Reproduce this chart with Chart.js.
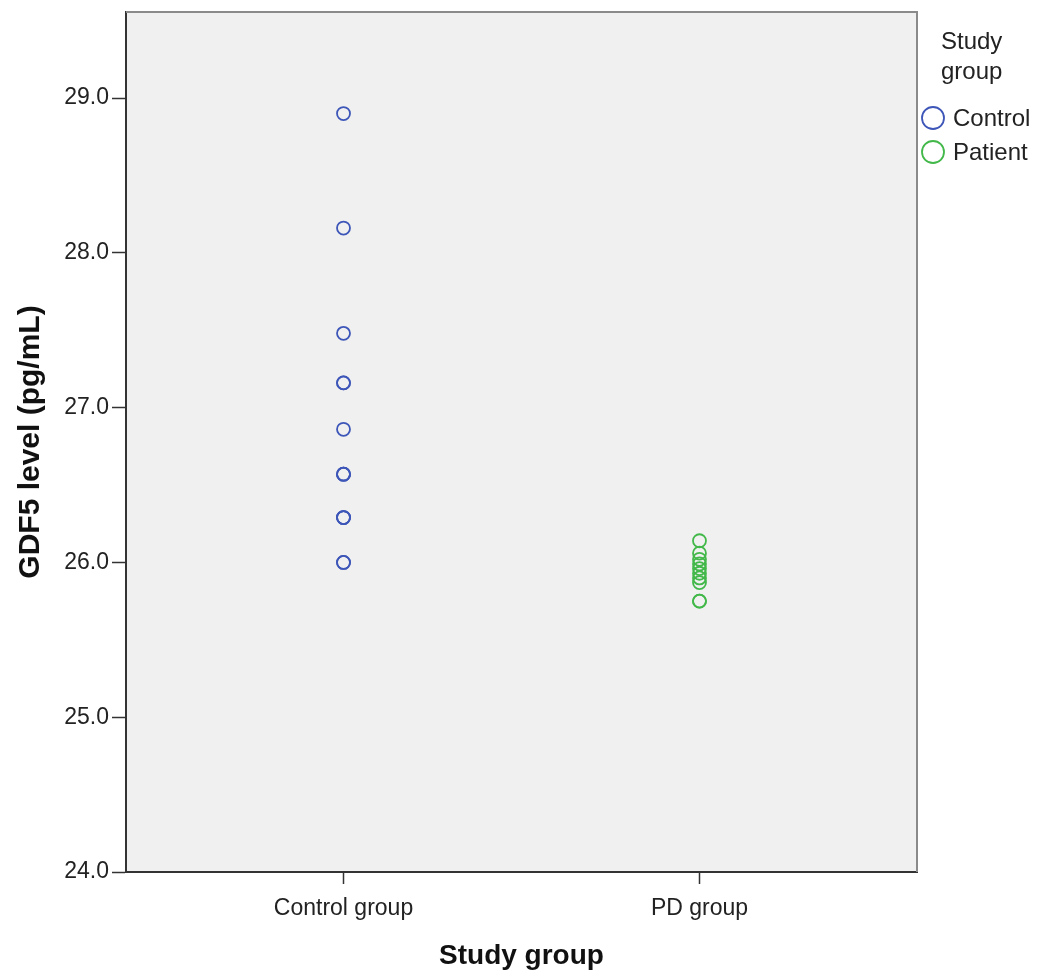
<!DOCTYPE html>
<html>
<head>
<meta charset="utf-8">
<script src="https://cdn.jsdelivr.net/npm/chart.js@4"></script>
<style>
  body { margin: 0; background: #fff; }
  #wrap { width: 1039px; height: 975px; }
</style>
</head>
<body>
<div id="wrap"><canvas id="gdfChart" width="1039" height="975"></canvas></div>
<script>
// category labels on the x axis
const groupLabels = ['Control group', 'PD group'];
// legend entries
const seriesNames = ['Control', 'Patient'];
// GDF5 level (pg/mL)
const controlValues = [28.90, 28.16, 27.48, 27.16, 27.16, 26.86, 26.57, 26.57, 26.57, 26.29, 26.29, 26.29, 26.00, 26.00];
const patientValues = [26.14, 26.06, 26.02, 25.99, 25.96, 25.93, 25.90, 25.87, 25.75, 25.75];
const yTicks = [24.0, 25.0, 26.0, 27.0, 28.0, 29.0];

const blue = '#3d56b8';
const green = '#43b84a';

function toPoints(values, pos) {
  return values.map(v => ({ x: pos, y: v }));
}

// plot background + lighter top/right frame lines
const framePlugin = {
  id: 'frame',
  beforeDraw(chart) {
    const { ctx, chartArea: a } = chart;
    ctx.save();
    ctx.fillStyle = '#f0f0f0';
    ctx.fillRect(a.left, a.top, a.right - a.left, a.bottom - a.top);
    ctx.restore();
  },
  afterDraw(chart) {
    const { ctx, chartArea: a } = chart;
    ctx.save();
    ctx.strokeStyle = '#8a8a8a';
    ctx.lineWidth = 2;
    ctx.beginPath();
    ctx.moveTo(a.left, a.top);
    ctx.lineTo(a.right, a.top);
    ctx.lineTo(a.right, a.bottom);
    ctx.stroke();
    ctx.restore();
  }
};

// legend drawn to the right of the plot like the SPSS output
const legendPlugin = {
  id: 'sideLegend',
  afterDraw(chart) {
    const { ctx, chartArea: a } = chart;
    const x = a.right + 16;
    ctx.save();
    ctx.fillStyle = '#222';
    ctx.font = '24px "Liberation Sans", Arial, sans-serif';
    ctx.textBaseline = 'middle';
    ctx.textAlign = 'left';
    ctx.fillText('Study', x + 8, 42);
    ctx.fillText('group', x + 8, 72);
    const colors = [blue, green];
    seriesNames.forEach((name, i) => {
      const y = 118 + i * 34;
      ctx.strokeStyle = colors[i];
      ctx.lineWidth = 1.8;
      ctx.beginPath();
      ctx.arc(x, y, 11, 0, Math.PI * 2);
      ctx.stroke();
      ctx.fillStyle = '#222';
      ctx.fillText(name, x + 20, y + 1);
    });
    ctx.restore();
  }
};

const tickFont = { family: '"Liberation Sans", Arial, sans-serif', size: 23 };
const titleFont = { family: '"Liberation Sans", Arial, sans-serif', size: 28, weight: 'bold' };

new Chart(document.getElementById('gdfChart'), {
  type: 'scatter',
  data: {
    datasets: [
      {
        label: seriesNames[0],
        data: toPoints(controlValues, 1),
        borderColor: blue,
        backgroundColor: 'rgba(0,0,0,0)',
        pointRadius: 6.5,
        pointBorderWidth: 1.8
      },
      {
        label: seriesNames[1],
        data: toPoints(patientValues, 2),
        borderColor: green,
        backgroundColor: 'rgba(0,0,0,0)',
        pointRadius: 6.5,
        pointBorderWidth: 1.8
      }
    ]
  },
  options: {
    responsive: false,
    animation: false,
    layout: { padding: { top: 12, right: 122, left: 0, bottom: 0 } },
    plugins: {
      legend: { display: false },
      tooltip: { enabled: false }
    },
    scales: {
      x: {
        type: 'linear',
        min: 0.389,
        max: 2.611,
        afterBuildTicks: scale => { scale.ticks = groupLabels.map((_, i) => ({ value: i + 1 })); },
        afterFit: scale => { scale.height = 103; scale.paddingLeft = 0; scale.paddingRight = 0; },
        ticks: {
          color: '#222',
          font: tickFont,
          padding: 11,
          maxRotation: 0,
          callback: v => groupLabels[v - 1]
        },
        grid: { drawOnChartArea: false, drawTicks: true, tickLength: 12, color: '#333', tickWidth: 1.5 },
        border: { display: true, color: '#333', width: 2 },
        title: { display: true, text: 'Study group', color: '#111', font: titleFont, padding: { top: 0, bottom: 2 } }
      },
      y: {
        min: 24.0,
        max: 29.556,
        afterBuildTicks: scale => { scale.ticks = yTicks.map(v => ({ value: v })); },
        afterFit: scale => { scale.width = 126; scale.paddingTop = 0; scale.paddingBottom = 0; },
        ticks: {
          color: '#222',
          font: tickFont,
          padding: 3,
          callback: v => v.toFixed(1)
        },
        grid: { drawOnChartArea: false, drawTicks: true, tickLength: 14, color: '#333', tickWidth: 1.5 },
        border: { display: true, color: '#333', width: 2 },
        title: { display: true, text: 'GDF5 level (pg/mL)', color: '#111', font: { family: '"Liberation Sans", Arial, sans-serif', size: 30, weight: 'bold' }, padding: { top: 13, bottom: 0 } }
      }
    }
  },
  plugins: [framePlugin, legendPlugin]
});
</script>
</body>
</html>
